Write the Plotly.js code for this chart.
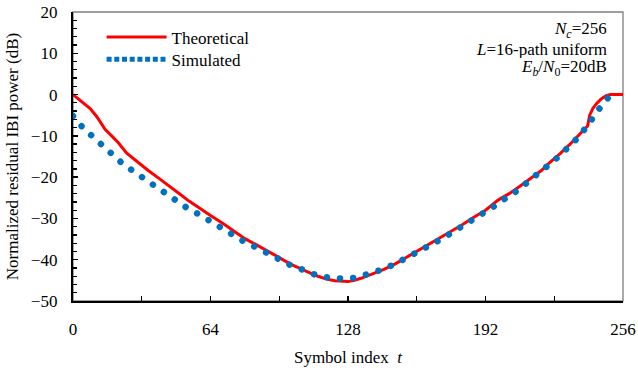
<!DOCTYPE html>
<html>
<head>
<meta charset="utf-8">
<script src="https://cdn.plot.ly/plotly-3.0.1.min.js"></script>
<style>
  html, body { margin: 0; padding: 0; background: #fff; }
  #chart { width: 638px; height: 372px; }
</style>
</head>
<body>
<div id="chart"></div>
<script>
// Theoretical curve (symbol index t, dB)
const theoT = [0, 2, 5, 8, 11, 13, 15, 18, 21, 25, 30, 35, 40, 44, 50, 54, 59, 64, 70, 75, 80, 85, 90, 95, 101, 105, 110, 114, 118, 122, 126, 128, 131, 134, 140, 145, 150, 155, 160, 165, 170, 176, 181, 186, 192, 198, 203, 208, 213, 218, 222, 227, 231, 236, 239.5, 240.5, 242, 244, 246, 248, 250, 256];
const theoV = [0, -0.8, -2.0, -3.4, -5.3, -7.0, -8.5, -10.0, -11.6, -14.2, -16.4, -18.4, -20.3, -21.8, -24.2, -25.8, -27.6, -29.3, -31.3, -33.0, -34.9, -36.3, -37.7, -39.2, -41.0, -42.0, -43.1, -44.0, -44.7, -45.1, -45.3, -45.3, -45.0, -44.5, -43.3, -42.3, -41.0, -39.5, -37.9, -36.6, -35.1, -33.2, -31.6, -29.9, -28.0, -25.5, -24.0, -22.2, -20.4, -18.4, -16.4, -14.2, -12.2, -9.6, -7.6, -5.0, -3.3, -2.0, -1.0, -0.3, 0, 0];

// Simulated curve (symbol index t, dB)
const simT = [0, 4.2, 8.8, 13.5, 18.1, 22.8, 27.9, 33, 37.8, 43.1, 47.9, 53.2, 58.3, 64.1, 69.2, 74.6, 79.9, 85.6, 91.1, 96.6, 102, 107.8, 113.5, 119.6, 125.5, 131.6, 137.4, 143.2, 148.8, 154.5, 159.9, 165.7, 170.8, 176.2, 181.6, 186.7, 192, 197.2, 202.4, 207.7, 212.2, 217.3, 221.8, 226.5, 231, 235.5, 239.3, 242.6, 246.5, 250.8];
const simV = [-5.2, -7.8, -10.0, -12.3, -14.4, -16.6, -18.5, -20.3, -22.2, -23.9, -25.9, -27.5, -28.9, -30.7, -32.5, -33.9, -35.7, -37.1, -38.7, -39.9, -41.5, -42.6, -43.8, -44.4, -44.6, -44.4, -43.5, -42.5, -41.3, -39.8, -38.2, -36.7, -35.2, -33.5, -31.8, -30.1, -28.3, -26.7, -24.7, -23.0, -20.9, -19.0, -16.9, -14.8, -12.5, -10.2, -7.6, -4.9, -2.3, 0.2];

const seriesNames = ['Theoretical', 'Simulated'];
const xTickVals = [0, 64, 128, 192, 256];
const yTickVals = [20, 10, 0, -10, -20, -30, -40, -50];
const noteLines = ['<i>N</i><sub><i>c</i></sub>=256', '<i>L</i>=16-path uniform', '<i>E</i><sub><i>b</i></sub>/<i>N</i><sub>0</sub>=20dB'];

const FONT = 'Liberation Serif, Times New Roman, serif';

const traces = [
  {
    x: theoT, y: theoV, name: seriesNames[0], type: 'scatter', mode: 'lines',
    line: { color: '#ff0000', width: 3 }
  },
  {
    x: simT, y: simV, name: seriesNames[1], type: 'scatter', mode: 'lines',
    line: { color: '#0070c0', width: 6.5, dash: '0.01px,13.2px' }
  }
];

const noteY = [0.939, 0.873, 0.807];
const annotations = noteLines.map((t, i) => ({
  xref: 'paper', yref: 'paper', x: 0.974, y: noteY[i],
  xanchor: 'right', yanchor: 'middle', align: 'right', valign: 'middle', showarrow: false,
  height: 18,
  text: t, font: { family: FONT, size: 17, color: '#000' }
}));

const layout = {
  width: 638, height: 372,
  margin: { l: 73, r: 15, t: 12, b: 71, pad: 0 },
  paper_bgcolor: '#fff', plot_bgcolor: '#fff',
  font: { family: FONT, size: 17, color: '#000' },
  showlegend: true,
  legend: {
    x: 0.052, y: 0.974, xanchor: 'left', yanchor: 'top',
    bgcolor: 'rgba(0,0,0,0)', font: { family: FONT, size: 17, color: '#000' },
    itemwidth: 60, tracegroupgap: 0
  },
  xaxis: {
    range: [0, 256], tickmode: 'array', tickvals: xTickVals,
    ticks: 'inside', ticklen: 5, tickwidth: 1.3, tickcolor: '#000',
    minor: { tickmode: 'linear', tick0: 0, dtick: 32, ticks: 'inside', ticklen: 5, tickwidth: 1.3, tickcolor: '#000', showgrid: false },
    showline: true, linecolor: '#000', linewidth: 2.2, mirror: false,
    showgrid: false, zeroline: false,
    ticklabelstandoff: 11,
    tickfont: { family: FONT, size: 17, color: '#000' },
    title: { text: 'Symbol index  <i>t</i>', font: { family: FONT, size: 17, color: '#000' }, standoff: 14 }
  },
  yaxis: {
    range: [-50, 20], tickmode: 'array', tickvals: yTickVals,
    ticks: 'inside', ticklen: 5, tickwidth: 1.3, tickcolor: '#000',
    minor: { tickmode: 'linear', tick0: 0, dtick: 2, ticks: 'inside', ticklen: 4, tickwidth: 1.3, tickcolor: '#000', showgrid: false },
    showline: true, linecolor: '#000', linewidth: 2.2, mirror: false,
    showgrid: false, zeroline: false,
    ticklabelstandoff: 10,
    tickfont: { family: FONT, size: 17, color: '#000' },
    title: { text: 'Normalized residual IBI power (dB)', font: { family: FONT, size: 17, color: '#000' }, standoff: 8 }
  },
  shapes: [
    { type: 'rect', xref: 'paper', yref: 'paper', x0: 0, x1: 1, y0: 0, y1: 1,
      line: { color: '#7f7f7f', width: 1.3 }, fillcolor: 'rgba(0,0,0,0)', layer: 'below' }
  ],
  annotations: annotations
};

Plotly.newPlot('chart', traces, layout, { staticPlot: true }).then(gd => {
  // round dot style for the simulated curve in the plot area
  const tr = gd.querySelectorAll('.scatterlayer .trace');
  if (tr[1]) tr[1].querySelectorAll('path.js-line').forEach(p => { p.style.strokeLinecap = 'round'; });
  // square-dot sample in the legend, and tighter row spacing
  const lg = gd.querySelectorAll('.legend .traces');
  if (lg[1]) {
    lg[1].querySelectorAll('.legendlines path').forEach(p => {
      p.style.strokeDasharray = '5px,2.7px';
      p.style.strokeWidth = '5px';
    });
    const m = /translate\(\s*([-\d.]+)[ ,]+([-\d.]+)\s*\)/.exec(lg[1].getAttribute('transform') || '');
    if (m) lg[1].setAttribute('transform', 'translate(' + m[1] + ',' + (parseFloat(m[2]) - 3) + ')');
  }
});
</script>
</body>
</html>
